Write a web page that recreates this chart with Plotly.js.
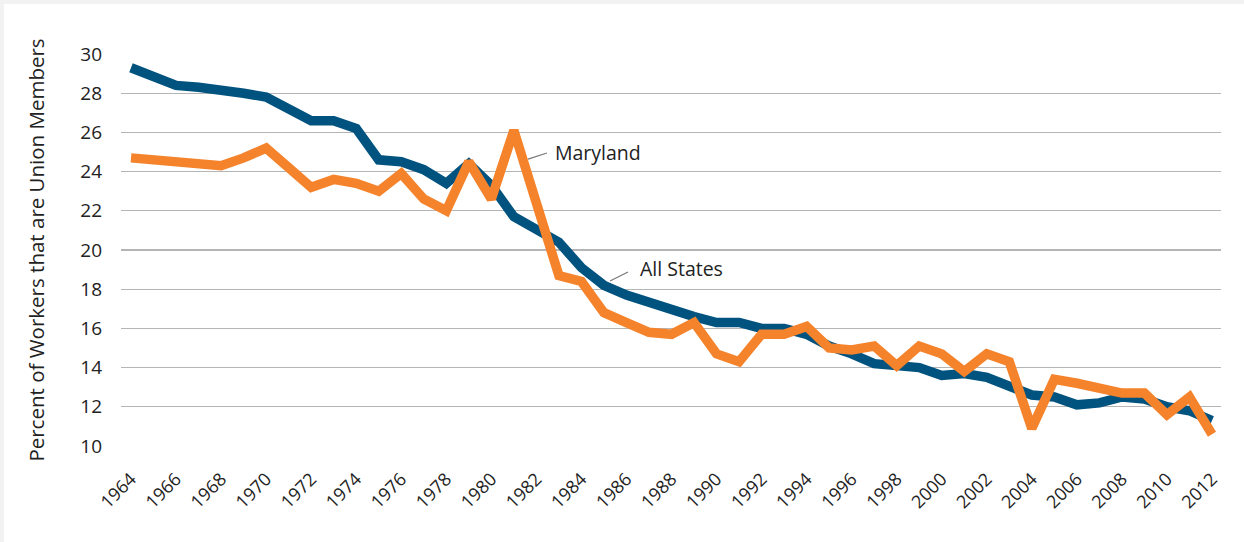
<!DOCTYPE html>
<html>
<head>
<meta charset="utf-8">
<script src="https://cdn.plot.ly/plotly-3.0.1.min.js"></script>
<style>
html,body{margin:0;padding:0;background:#f2f2f2;}
#chart{position:absolute;left:4px;top:4px;width:1240px;height:538px;background:#fff;}
</style>
</head>
<body>
<div id="chart"></div>
<script>
const years = [];
for (let y = 1964; y <= 2012; y++) years.push(y);

const allStates = [29.3, 28.9, 28.4, 28.3, 28.2, 28.0, 27.8, 27.2, 26.6, 26.6,
  26.2, 24.6, 24.5, 24.1, 23.4, 24.4, 23.3, 21.7, 21.0, 20.4,
  19.1, 18.2, 17.7, 17.3, 17.0, 16.6, 16.3, 16.3, 16.0, 16.0,
  15.7, 15.1, 14.7, 14.2, 14.1, 14.0, 13.6, 13.7, 13.5, 13.0,
  12.6, 12.5, 12.1, 12.2, 12.5, 12.4, 12.0, 11.8, 11.3];

const maryland = [24.7, 24.6, 24.6, 24.4, 24.3, 24.7, 25.2, 24.2, 23.2, 23.6,
  23.4, 23.0, 23.9, 22.6, 22.0, 24.5, 22.6, 26.1, 22.4, 18.7,
  18.4, 16.8, 16.3, 15.8, 15.7, 16.3, 14.7, 14.3, 15.7, 15.7,
  16.1, 15.0, 14.9, 15.1, 14.1, 15.1, 14.7, 13.8, 14.7, 14.3,
  10.9, 13.4, 13.2, 12.9, 12.7, 12.7, 11.6, 12.5, 10.6];

const tickYears = years.filter(y => y % 2 === 0);
const yTicks = [10, 12, 14, 16, 18, 20, 22, 24, 26, 28, 30];

const FONT = '"Open Sans", "Noto Sans", sans-serif';

const traces = [
  {x: years, y: allStates, type: 'scatter', mode: 'lines', name: 'All States',
   line: {color: '#00527f', width: 9.5}},
  {x: years, y: maryland, type: 'scatter', mode: 'lines', name: 'Maryland',
   line: {color: '#f5832b', width: 9.5}}
];

const layout = {
  width: 1240, height: 538,
  margin: {l: 117, r: 23, t: 50, b: 96},
  paper_bgcolor: '#ffffff', plot_bgcolor: '#ffffff',
  showlegend: false,
  font: {family: FONT, color: '#222', size: 19},
  xaxis: {
    range: [1963.556, 2012.4],
    tickvals: tickYears, ticktext: tickYears.map(String),
    tickangle: -45, showgrid: false, zeroline: false,
    showline: false, ticks: '', ticklabelstandoff: 18,
    tickfont: {size: 18, family: FONT, color: '#222'}
  },
  yaxis: {
    range: [10, 30], tickvals: yTicks,
    showgrid: true, gridcolor: '#b5b5b5', gridwidth: 1.3,
    zeroline: false, showline: false, ticks: '',
    ticklabelstandoff: 18,
    tickfont: {size: 19, family: FONT, color: '#222'},
    title: {text: 'Percent of Workers that are Union Members', standoff: 30,
            font: {size: 20.5, family: FONT, color: '#222'}}
  },
  shapes: [
    {type: 'line', xref: 'x', yref: 'y', x0: 1981.63, y0: 24.64, x1: 1982.47, y1: 24.95,
     line: {color: '#777', width: 1.2}},
    {type: 'line', xref: 'x', yref: 'y', x0: 1985.27, y0: 18.42, x1: 1986.07, y1: 18.88,
     line: {color: '#777', width: 1.2}}
  ],
  annotations: [
    {x: 1982.74, y: 24.95, xref: 'x', yref: 'y', text: 'Maryland', showarrow: false,
     xanchor: 'left', yanchor: 'middle', font: {size: 19.5, family: FONT, color: '#222'}},
    {x: 1986.51, y: 19.08, xref: 'x', yref: 'y', text: 'All States', showarrow: false,
     xanchor: 'left', yanchor: 'middle', font: {size: 19.5, family: FONT, color: '#222'}}
  ]
};

Plotly.newPlot('chart', traces, layout, {displayModeBar: false, staticPlot: true});
</script>
</body>
</html>
